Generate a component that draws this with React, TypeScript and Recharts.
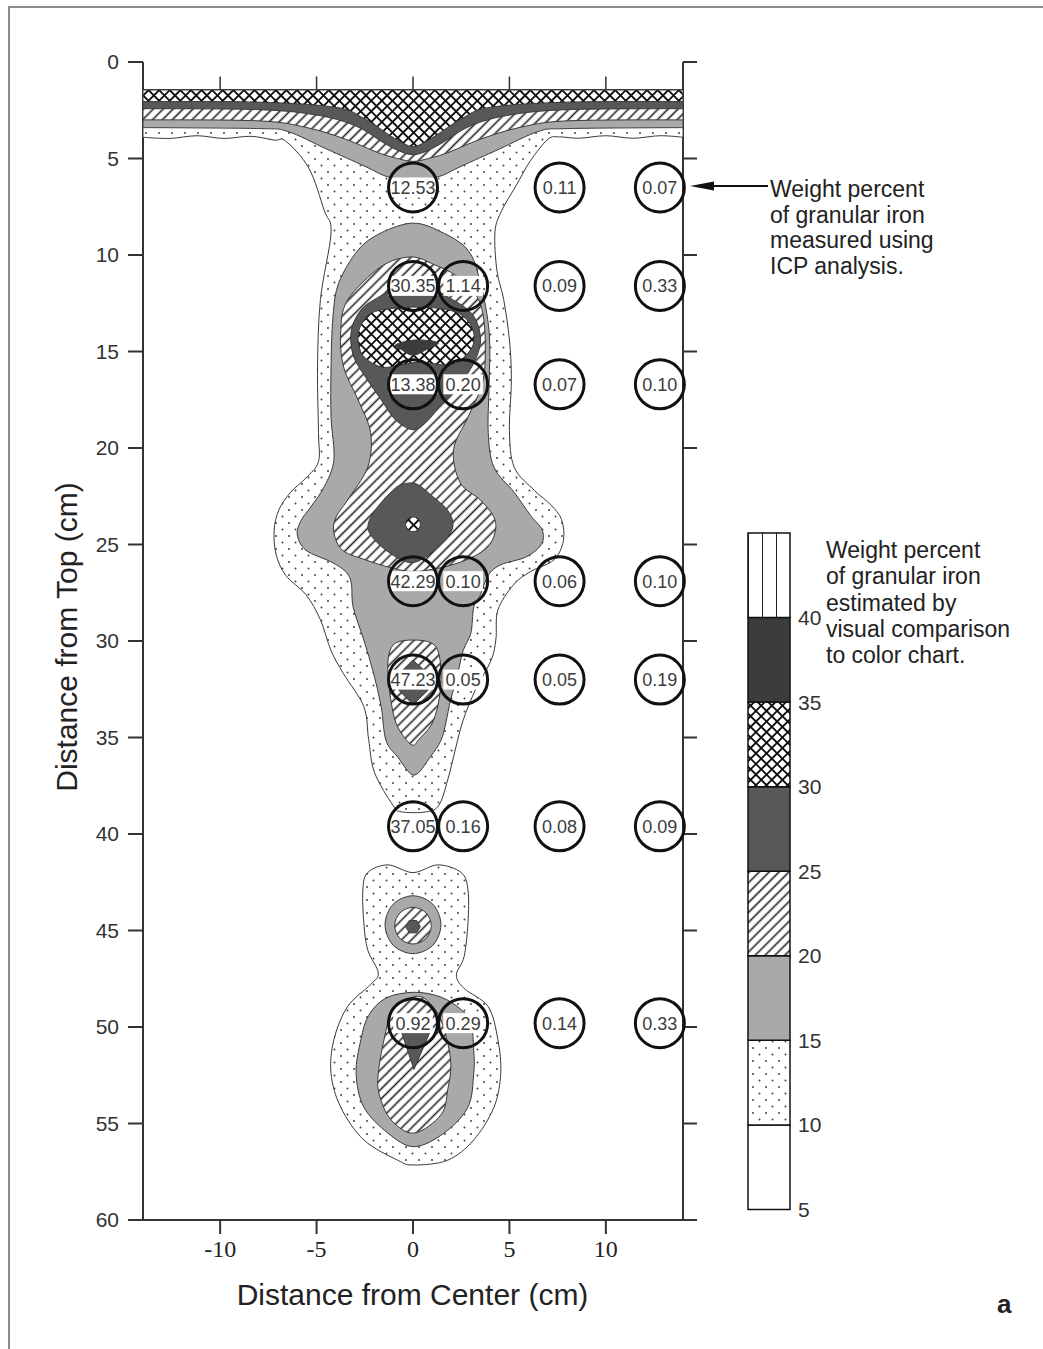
import { Bar, BarChart, ReferenceLine, Scatter, ScatterChart, XAxis, YAxis } from "recharts";

type Pt = [number, number];

const SANS = "'Liberation Sans', Arial, Helvetica, sans-serif";
const SERIF = "'Liberation Serif', 'Times New Roman', serif";

// axes
const X_TICKS = [-10, -5, 0, 5, 10];
const Y_TICKS = [0, 5, 10, 15, 20, 25, 30, 35, 40, 45, 50, 55, 60];
const TOP_TICK_SPAN = [0.75, 1.45];

// colour key (wt% bands)
const KEY_TICKS = [5, 10, 15, 20, 25, 30, 35, 40];
const KEY_BANDS = [5, 10, 15, 20, 25, 30, 35, 40];
const KEY_ROW = [{ name: "key", base: 5, b5: 5, b10: 5, b15: 5, b20: 5, b25: 5, b30: 5, b35: 5, b40: 5 }];

// ICP sample grid (cm) and measured wt%
const SAMPLE_X = [0, 2.6, 7.6, 12.8];
const SAMPLE_DEPTH = [6.5, 11.6, 16.7, 26.9, 32.0, 39.6, 49.8];
const ICP_WT: (string | null)[][] = [
  ["12.53", null, "0.11", "0.07"],
  ["30.35", "1.14", "0.09", "0.33"],
  ["13.38", "0.20", "0.07", "0.10"],
  ["42.29", "0.10", "0.06", "0.10"],
  ["47.23", "0.05", "0.05", "0.19"],
  ["37.05", "0.16", "0.08", "0.09"],
  ["0.92", "0.29", "0.14", "0.33"],
];

// contour outlines, [distance from center, distance from top] in cm
const DOTS_UPPER: Pt[] = [
  [-14, 1.45], [14, 1.45], [14, 3.9],
  [12.8, 3.82], [11.4, 3.95], [10.0, 3.82], [8.6, 3.95], [7.6, 3.88], [7.0, 4.0],
  [6.1, 5.1], [5.35, 6.4], [4.6, 7.7], [4.25, 8.8], [4.35, 10.8], [4.7, 12.3], [5.0, 14.4],
  [5.1, 16.5], [5.0, 19.1], [5.25, 21.0], [6.3, 22.2], [7.15, 22.95], [7.7, 23.7], [7.8, 24.8],
  [7.3, 25.8], [6.1, 26.4], [5.2, 27.1], [4.4, 28.4], [4.3, 29.9], [4.05, 31.0], [3.25, 32.5],
  [2.6, 34.1], [2.2, 35.6], [1.8, 37.2], [1.35, 38.5], [0.7, 38.85], [-0.6, 38.85], [-1.05, 38.5],
  [-2.0, 36.8], [-2.3, 35.1], [-2.55, 33.4], [-3.6, 31.7], [-4.25, 30.5], [-4.8, 28.9],
  [-5.55, 27.6], [-6.6, 26.6], [-7.1, 25.5], [-7.2, 24.25], [-6.95, 23.2], [-6.35, 22.3],
  [-5.55, 21.55], [-4.9, 20.7], [-4.9, 19.2], [-4.95, 15.8], [-4.8, 12.3], [-4.25, 8.85],
  [-4.6, 7.7], [-5.4, 5.5], [-6.6, 4.1], [-7.2, 4.05],
  [-8.4, 3.85], [-9.8, 3.96], [-11.2, 3.82], [-12.6, 3.96], [-14, 3.9],
];
const GRAY_TOP: Pt[] = [
  [-14, 1.45], [14, 1.45], [14, 3.4], [8, 3.45], [6.5, 3.6], [4.5, 4.5], [2.5, 5.4], [1.3, 5.95],
  [0, 6.1], [-1.3, 5.95], [-2.5, 5.4], [-4.5, 4.5], [-6.5, 3.6], [-8, 3.45], [-14, 3.4],
];
const HATCH_TOP: Pt[] = [
  [-14, 1.45], [14, 1.45], [14, 3.0], [8, 3.05], [5.5, 3.4], [3.5, 4.0], [1.8, 4.7], [0.8, 5.0],
  [0, 5.15], [-0.8, 5.0], [-1.8, 4.7], [-3.5, 4.0], [-5.5, 3.4], [-8, 3.05], [-14, 3.0],
];
const DARK_TOP: Pt[] = [
  [-14, 1.45], [14, 1.45], [14, 2.42], [8, 2.47], [5, 2.75], [3, 3.3], [1.5, 4.2], [0.7, 4.62],
  [0, 4.8], [-0.7, 4.62], [-1.5, 4.2], [-3, 3.3], [-5, 2.75], [-8, 2.47], [-14, 2.42],
];
const XHATCH_TOP: Pt[] = [
  [-14, 1.45], [14, 1.45], [14, 2.05], [8, 2.08], [4, 2.35], [2.5, 2.95], [1.2, 3.8], [0.5, 4.22],
  [0, 4.38], [-0.5, 4.22], [-1.2, 3.8], [-2.5, 2.95], [-4, 2.35], [-8, 2.08], [-14, 2.05],
];
const GRAY_BODY: Pt[] = [
  [0, 8.35], [1.45, 8.8], [2.85, 9.75], [3.5, 11.45], [3.95, 14.0], [3.95, 16.6], [3.9, 19.2],
  [4.2, 21.0], [5.25, 22.3], [6.1, 23.5], [6.7, 24.25], [6.65, 25.0], [5.85, 25.65], [4.55, 26.05],
  [3.9, 26.6], [3.5, 27.6], [3.15, 28.25], [3.0, 29.6], [2.6, 30.5], [2.25, 32.0], [1.95, 33.05],
  [1.7, 34.25], [1.45, 35.15], [0.9, 36.0], [0.05, 36.95], [-0.8, 36.0], [-1.4, 35.15],
  [-1.65, 33.4], [-2.05, 31.65], [-2.55, 29.95], [-3.1, 28.25], [-3.2, 27.0], [-3.5, 26.4],
  [-4.25, 25.9], [-5.55, 25.3], [-6.0, 24.5], [-5.8, 23.75], [-5.3, 23.05], [-4.6, 22.0],
  [-4.1, 20.6], [-4.25, 18.4], [-4.25, 15.8], [-4.15, 13.2], [-3.85, 11.45], [-2.85, 9.75],
  [-1.65, 8.85],
];
const HATCH_BODY: Pt[] = [
  [-0.1, 10.1], [1.1, 10.5], [2.2, 11.05], [3.25, 12.05], [3.65, 13.2], [3.75, 14.9], [3.6, 16.65],
  [2.85, 18.4], [2.1, 20.1], [2.45, 21.8], [3.5, 22.7], [4.2, 23.6], [4.25, 24.4], [3.8, 25.2],
  [2.75, 25.8], [1.45, 26.2], [0, 26.4], [-1.15, 26.2], [-2.45, 25.8], [-3.65, 25.3], [-4.1, 24.4],
  [-4.0, 23.6], [-3.4, 22.7], [-2.35, 21.0], [-2.2, 19.2], [-2.85, 17.5], [-3.6, 15.8],
  [-3.75, 14.05], [-3.4, 12.35], [-1.65, 10.6],
];
const DARK_BODY: Pt[] = [
  [-0.9, 11.8], [0.7, 11.7], [1.95, 12.25], [3.1, 13.1], [3.5, 14.4], [3.1, 15.7], [2.2, 17.0],
  [1.45, 17.75], [0.7, 18.65], [0, 19.05], [-0.9, 18.55], [-1.65, 17.5], [-2.45, 16.35],
  [-3.1, 15.2], [-3.2, 13.9], [-2.7, 12.85], [-1.9, 12.25],
];
const XHATCH_BODY: Pt[] = [
  [-1.65, 12.85], [0.4, 12.7], [2.2, 12.95], [3.0, 13.65], [3.15, 14.55], [2.6, 15.35], [1.8, 15.7],
  [0.4, 15.55], [-0.65, 15.7], [-1.65, 15.8], [-2.6, 15.2], [-2.85, 14.15], [-2.45, 13.25],
];
const CORE_BODY: Pt[] = [[-0.9, 14.65], [0.15, 14.4], [1.3, 14.55], [0.7, 14.9], [0, 15.2], [-0.6, 14.9]];
const DARK_DIAMOND: Pt[] = [
  [-0.6, 21.9], [0.15, 21.85], [0.95, 22.45], [1.85, 23.3], [2.05, 24.15], [1.45, 25.0], [0.4, 25.8],
  [-0.35, 25.9], [-1.4, 25.3], [-2.2, 24.5], [-2.3, 23.85], [-1.75, 22.95], [-1.05, 22.2],
];
const XHATCH_DOT: Pt[] = [
  [0.38, 23.95], [0.27, 24.22], [0, 24.33], [-0.27, 24.22], [-0.38, 23.95], [-0.27, 23.68], [0, 23.57], [0.27, 23.68],
];
const HATCH_OVAL: Pt[] = [
  [-0.9, 30.1], [0, 29.95], [0.95, 30.1], [1.35, 30.7], [1.45, 32.0], [1.3, 33.3], [0.95, 34.35],
  [0.3, 35.1], [0, 35.4], [-0.45, 35.0], [-0.9, 34.2], [-1.15, 33.05], [-1.3, 31.75], [-1.25, 30.7],
];
const DARK_OVAL: Pt[] = [[0, 31.0], [0.68, 31.6], [0.78, 32.55], [0, 33.3], [-0.73, 32.55], [-0.62, 31.6]];
const DOTS_LOWER: Pt[] = [
  [0, 42.0], [1.3, 41.6], [2.5, 42.0], [2.85, 42.9], [2.85, 44.6], [2.65, 46.35], [2.25, 47.3],
  [2.65, 48.0], [3.9, 48.95], [4.4, 50.65], [4.55, 52.4], [4.2, 54.15], [3.15, 55.85], [1.8, 56.9],
  [0.05, 57.15], [-0.8, 56.9], [-2.55, 55.85], [-3.75, 54.15], [-4.25, 52.4], [-4.1, 50.65],
  [-3.4, 48.95], [-2.2, 47.8], [-1.8, 47.2], [-2.35, 46.0], [-2.55, 44.6], [-2.6, 42.9],
  [-2.35, 42.0], [-1.3, 41.6],
];
const GRAY_KNOT: Pt[] = [
  [1.45, 44.7], [1.03, 45.76], [0, 46.2], [-1.03, 45.76], [-1.45, 44.7], [-1.03, 43.64], [0, 43.2], [1.03, 43.64],
];
const HATCH_KNOT: Pt[] = [
  [0.95, 44.75], [0.67, 45.42], [0, 45.7], [-0.67, 45.42], [-0.95, 44.75], [-0.67, 44.08], [0, 43.8], [0.67, 44.08],
];
const DARK_KNOT: Pt[] = [[0.38, 44.8], [0.19, 45.12], [-0.19, 45.12], [-0.38, 44.8], [-0.19, 44.48], [0.19, 44.48]];
const GRAY_BULB: Pt[] = [
  [0.05, 48.2], [1.45, 48.45], [2.5, 49.1], [3.0, 49.8], [3.15, 51.2], [3.15, 52.4], [2.85, 54.15],
  [1.6, 55.5], [0.05, 56.2], [-1.3, 55.5], [-2.55, 54.15], [-2.95, 52.4], [-2.7, 50.65], [-2.3, 49.4],
  [-1.4, 48.5],
];
const HATCH_BULB: Pt[] = [
  [0, 48.45], [0.7, 48.6], [1.45, 49.65], [1.95, 51.7], [1.8, 53.25], [1.45, 54.55], [0.05, 55.5],
  [-1.15, 54.8], [-1.75, 53.5], [-1.8, 52.4], [-1.5, 50.65], [-1.05, 49.1],
];
const DARK_BULB: Pt[] = [[-0.65, 50.1], [0.95, 50.1], [0.05, 52.2]];

const CONTOURS: { level: number; pts: Pt[]; smooth: boolean }[] = [
  { level: 10, pts: DOTS_UPPER, smooth: true },
  { level: 15, pts: GRAY_TOP, smooth: true },
  { level: 20, pts: HATCH_TOP, smooth: true },
  { level: 25, pts: DARK_TOP, smooth: true },
  { level: 30, pts: XHATCH_TOP, smooth: true },
  { level: 15, pts: GRAY_BODY, smooth: true },
  { level: 20, pts: HATCH_BODY, smooth: true },
  { level: 25, pts: DARK_BODY, smooth: true },
  { level: 30, pts: XHATCH_BODY, smooth: true },
  { level: 35, pts: CORE_BODY, smooth: true },
  { level: 25, pts: DARK_DIAMOND, smooth: true },
  { level: 30, pts: XHATCH_DOT, smooth: true },
  { level: 20, pts: HATCH_OVAL, smooth: true },
  { level: 25, pts: DARK_OVAL, smooth: false },
  { level: 10, pts: DOTS_LOWER, smooth: true },
  { level: 15, pts: GRAY_KNOT, smooth: true },
  { level: 20, pts: HATCH_KNOT, smooth: true },
  { level: 25, pts: DARK_KNOT, smooth: false },
  { level: 15, pts: GRAY_BULB, smooth: true },
  { level: 20, pts: HATCH_BULB, smooth: true },
  { level: 25, pts: DARK_BULB, smooth: false },
];

const LEVEL_FILL: Record<number, string> = {
  10: "url(#fe-dots)",
  15: "#a9a9a9",
  20: "url(#fe-hatch)",
  25: "#585858",
  30: "url(#fe-xhatch)",
  35: "#3c3c3c",
};

const KEY_FILL: Record<number, string> = {
  5: "#ffffff",
  10: "url(#key-dots)",
  15: "#a9a9a9",
  20: "url(#key-hatch)",
  25: "#585858",
  30: "url(#key-xhatch)",
  35: "#3c3c3c",
  40: "url(#key-vlines)",
};

const samples = SAMPLE_DEPTH.flatMap((y, r) =>
  SAMPLE_X.map((x, c) => ({ x, y, label: ICP_WT[r][c] })).filter((s) => s.label !== null)
);

type XY = { x: number; y: number };

function loopPath(pts: XY[], sharp: boolean[], smooth: boolean) {
  const n = pts.length;
  if (!smooth) return "M" + pts.map((p) => `${p.x},${p.y}`).join("L") + "Z";
  let d = `M${pts[0].x},${pts[0].y}`;
  for (let i = 0; i < n; i++) {
    const p0 = pts[(i - 1 + n) % n];
    const p1 = pts[i];
    const p2 = pts[(i + 1) % n];
    const p3 = pts[(i + 2) % n];
    const c1 = sharp[i] ? p1 : { x: p1.x + (p2.x - p0.x) / 6, y: p1.y + (p2.y - p0.y) / 6 };
    const c2 = sharp[(i + 1) % n] ? p2 : { x: p2.x - (p3.x - p1.x) / 6, y: p2.y - (p3.y - p1.y) / 6 };
    d += `C${c1.x},${c1.y} ${c2.x},${c2.y} ${p2.x},${p2.y}`;
  }
  return d + "Z";
}

function contourLine(c: { level: number; pts: Pt[]; smooth: boolean }) {
  // points on the plot frame keep sharp corners
  const sharp = c.pts.map(([x, y]) => Math.abs(x) >= 14 || y <= 1.45);
  return (props: any) => (
    <path
      d={loopPath(props.points as XY[], sharp, c.smooth)}
      fill={LEVEL_FILL[c.level]}
      stroke="#3a3a3a"
      strokeWidth={1}
      strokeLinejoin="round"
    />
  );
}

const noMarker = () => <g />;

function SampleMark(props: any) {
  const { cx, cy, payload } = props;
  const w = payload.label.length * 9.4 + 2;
  return (
    <g>
      <rect x={cx - w / 2} y={cy - 10} width={w} height={20} fill="#fff" />
      <circle cx={cx} cy={cy} r={24.5} fill="none" stroke="#111" strokeWidth={3} />
      <text x={cx} y={cy} dy="0.36em" textAnchor="middle" fontSize={18} fill="#3c3c3c" fontFamily={SANS}>
        {payload.label}
      </text>
    </g>
  );
}

export default function App() {
  return (
    <div
      style={{
        position: "absolute",
        left: 0,
        top: 0,
        width: 1043,
        height: 1349,
        background: "#fff",
        overflow: "hidden",
        fontFamily: SANS,
        color: "#222",
      }}
    >
      <div style={{ position: "absolute", left: 0, top: 0 }}>
        <ScatterChart width={720} height={1349} margin={{ top: 62, right: 0, bottom: 0, left: 0 }}>
          <defs>
            <pattern id="fe-dots" width="13" height="13" patternUnits="userSpaceOnUse">
              <rect width="13" height="13" fill="#fff" />
              <circle cx="3" cy="3" r="1" fill="#444" />
              <circle cx="9.5" cy="9.5" r="1" fill="#444" />
            </pattern>
            <pattern id="fe-hatch" width="7" height="7" patternUnits="userSpaceOnUse" patternTransform="rotate(45)">
              <rect width="7" height="7" fill="#fff" />
              <line x1="3.5" y1="0" x2="3.5" y2="7" stroke="#222" strokeWidth="1.6" />
            </pattern>
            <pattern id="fe-xhatch" width="7.5" height="7.5" patternUnits="userSpaceOnUse" patternTransform="rotate(45)">
              <rect width="7.5" height="7.5" fill="#fff" />
              <line x1="3.75" y1="0" x2="3.75" y2="7.5" stroke="#111" strokeWidth="1.9" />
              <line x1="0" y1="3.75" x2="7.5" y2="3.75" stroke="#111" strokeWidth="1.9" />
            </pattern>
          </defs>
          <XAxis
            type="number"
            dataKey="x"
            domain={[-14, 14]}
            ticks={X_TICKS}
            interval={0}
            height={129}
            tickSize={14}
            tickMargin={6}
            axisLine={{ stroke: "#333", strokeWidth: 2 }}
            tickLine={{ stroke: "#333", strokeWidth: 2 }}
            tick={{ fill: "#222", fontSize: 24, fontFamily: SERIF }}
          />
          <YAxis
            type="number"
            dataKey="y"
            domain={[0, 60]}
            reversed
            ticks={Y_TICKS}
            interval={0}
            width={143}
            tickSize={15}
            tickMargin={9}
            axisLine={{ stroke: "#333", strokeWidth: 2 }}
            tickLine={{ stroke: "#333", strokeWidth: 2 }}
            tick={{ fill: "#333", fontSize: 21, fontFamily: SANS }}
          />
          <YAxis
            yAxisId="right"
            orientation="right"
            type="number"
            dataKey="y"
            domain={[0, 60]}
            allowDataOverflow
            reversed
            ticks={Y_TICKS}
            interval={0}
            width={37}
            tickSize={14}
            tickFormatter={() => ""}
            axisLine={{ stroke: "#333", strokeWidth: 2 }}
            tickLine={{ stroke: "#333", strokeWidth: 2 }}
          />
          {X_TICKS.map((t) => (
            <ReferenceLine
              key={`top${t}`}
              segment={[
                { x: t, y: TOP_TICK_SPAN[0] },
                { x: t, y: TOP_TICK_SPAN[1] },
              ]}
              stroke="#333"
              strokeWidth={1.5}
            />
          ))}
          {CONTOURS.map((c, i) => (
            <Scatter
              key={`c${i}`}
              data={c.pts.map(([x, y]) => ({ x, y }))}
              line={contourLine(c)}
              lineType="joint"
              shape={noMarker}
              isAnimationActive={false}
            />
          ))}
          <Scatter yAxisId="right" data={samples} shape={SampleMark} isAnimationActive={false} />
        </ScatterChart>
      </div>

      <div style={{ position: "absolute", left: 740, top: 520 }}>
        <BarChart width={100} height={800} data={KEY_ROW} margin={{ top: 13, right: 0, bottom: 26, left: 8 }} barCategoryGap={0}>
          <defs>
            <pattern id="key-dots" width="13" height="13" patternUnits="userSpaceOnUse" x="10" y="5">
              <rect width="13" height="13" fill="#fff" />
              <circle cx="3" cy="3" r="1" fill="#444" />
              <circle cx="9.5" cy="9.5" r="1" fill="#444" />
            </pattern>
            <pattern id="key-hatch" width="7" height="7" patternUnits="userSpaceOnUse" patternTransform="rotate(45)">
              <rect width="7" height="7" fill="#fff" />
              <line x1="3.5" y1="0" x2="3.5" y2="7" stroke="#222" strokeWidth="1.6" />
            </pattern>
            <pattern id="key-xhatch" width="7.5" height="7.5" patternUnits="userSpaceOnUse" patternTransform="rotate(45)">
              <rect width="7.5" height="7.5" fill="#fff" />
              <line x1="3.75" y1="0" x2="3.75" y2="7.5" stroke="#111" strokeWidth="1.9" />
              <line x1="0" y1="3.75" x2="7.5" y2="3.75" stroke="#111" strokeWidth="1.9" />
            </pattern>
            <pattern id="key-vlines" width="14" height="14" patternUnits="userSpaceOnUse" x="8" y="0">
              <rect width="14" height="14" fill="#fff" />
              <line x1="0" y1="0" x2="0" y2="14" stroke="#222" strokeWidth="2" />
            </pattern>
          </defs>
          <XAxis dataKey="name" hide />
          <YAxis
            orientation="right"
            type="number"
            domain={[0, 45]}
            ticks={KEY_TICKS}
            interval={0}
            width={50}
            axisLine={false}
            tickLine={false}
            tickSize={6}
            tickMargin={2}
            tick={{ fill: "#333", fontSize: 21, fontFamily: SANS }}
          />
          <Bar dataKey="base" stackId="k" fill="none" stroke="none" isAnimationActive={false} />
          {KEY_BANDS.map((b) => (
            <Bar
              key={b}
              dataKey={`b${b}`}
              stackId="k"
              fill={KEY_FILL[b]}
              stroke="#111"
              strokeWidth={1.5}
              isAnimationActive={false}
            />
          ))}
        </BarChart>
      </div>

      <svg style={{ position: "absolute", left: 686, top: 177 }} width={84} height={18}>
        <line x1={20} y1={9} x2={82} y2={9} stroke="#111" strokeWidth={2} />
        <polygon points="4,9 28,4.5 28,13.5" fill="#111" />
      </svg>

      <div style={{ position: "absolute", left: 770, top: 177, fontSize: 23, lineHeight: "25.7px", whiteSpace: "pre" }}>
        {"Weight percent\nof granular iron\nmeasured using\nICP analysis."}
      </div>
      <div style={{ position: "absolute", left: 826, top: 537, fontSize: 23, lineHeight: "26.3px", whiteSpace: "pre" }}>
        {"Weight percent\nof granular iron\nestimated by\nvisual comparison\nto color chart."}
      </div>

      <div
        style={{
          position: "absolute",
          left: 0,
          top: 1280,
          width: 825,
          height: 30,
          lineHeight: "30px",
          fontSize: 30,
          textAlign: "center",
          whiteSpace: "nowrap",
        }}
      >
        Distance from Center (cm)
      </div>
      <div
        style={{
          position: "absolute",
          left: -133,
          top: 622,
          width: 400,
          height: 30,
          lineHeight: "30px",
          fontSize: 30,
          textAlign: "center",
          whiteSpace: "nowrap",
          transform: "rotate(-90deg)",
        }}
      >
        Distance from Top (cm)
      </div>
      <div style={{ position: "absolute", left: 997, top: 1290, fontSize: 26, lineHeight: "29px", fontWeight: 700 }}>a</div>

      <div style={{ position: "absolute", left: 9, top: 6, width: 1034, height: 2, background: "#8c8c8c" }} />
      <div style={{ position: "absolute", left: 8, top: 6, width: 2, height: 1343, background: "#8c8c8c" }} />
    </div>
  );
}
